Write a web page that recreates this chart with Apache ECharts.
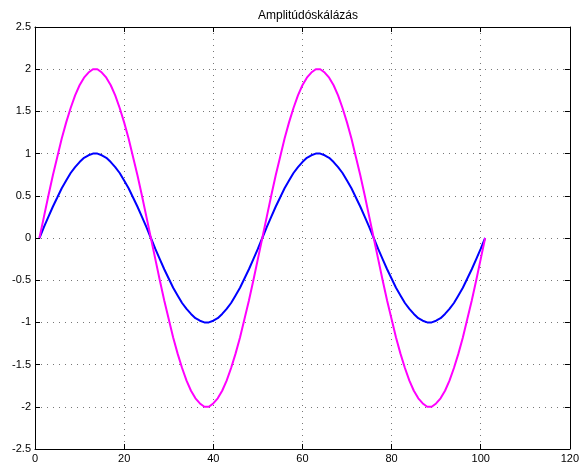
<!DOCTYPE html>
<html lang="en">
<head>
<meta charset="UTF-8">
<title>Amplitúdóskálázás</title>
<script src="https://cdn.jsdelivr.net/npm/echarts@6/dist/echarts.min.js"></script>
<style>
  html, body { margin: 0; padding: 0; background: #fff; }
  #chart { width: 582px; height: 464px; }
</style>
</head>
<body>
<div id="chart"></div>
<script type="text/javascript">
// sample values, one per x = 1..101
var blue = [
  0, 0.13, 0.25, 0.37, 0.48, 0.59, 0.68, 0.77, 0.84, 0.9, 0.95, 0.98, 1, 1, 0.98, 0.95, 0.9, 0.84, 0.77, 0.68, 0.59, 0.48, 0.37, 0.25, 0.13,
  0, -0.13, -0.25, -0.37, -0.48, -0.59, -0.68, -0.77, -0.84, -0.9, -0.95, -0.98, -1, -1, -0.98, -0.95, -0.9, -0.84, -0.77, -0.68, -0.59, -0.48, -0.37, -0.25, -0.13,
  0, 0.13, 0.25, 0.37, 0.48, 0.59, 0.68, 0.77, 0.84, 0.9, 0.95, 0.98, 1, 1, 0.98, 0.95, 0.9, 0.84, 0.77, 0.68, 0.59, 0.48, 0.37, 0.25, 0.13,
  0, -0.13, -0.25, -0.37, -0.48, -0.59, -0.68, -0.77, -0.84, -0.9, -0.95, -0.98, -1, -1, -0.98, -0.95, -0.9, -0.84, -0.77, -0.68, -0.59, -0.48, -0.37, -0.25, -0.13,
  0
];
var magenta = [
  0, 0.25, 0.5, 0.74, 0.96, 1.18, 1.37, 1.54, 1.69, 1.81, 1.9, 1.96, 2, 2, 1.96, 1.9, 1.81, 1.69, 1.54, 1.37, 1.18, 0.96, 0.74, 0.5, 0.25,
  0, -0.25, -0.5, -0.74, -0.96, -1.18, -1.37, -1.54, -1.69, -1.81, -1.9, -1.96, -2, -2, -1.96, -1.9, -1.81, -1.69, -1.54, -1.37, -1.18, -0.96, -0.74, -0.5, -0.25,
  0, 0.25, 0.5, 0.74, 0.96, 1.18, 1.37, 1.54, 1.69, 1.81, 1.9, 1.96, 2, 2, 1.96, 1.9, 1.81, 1.69, 1.54, 1.37, 1.18, 0.96, 0.74, 0.5, 0.25,
  0, -0.25, -0.5, -0.74, -0.96, -1.18, -1.37, -1.54, -1.69, -1.81, -1.9, -1.96, -2, -2, -1.96, -1.9, -1.81, -1.69, -1.54, -1.37, -1.18, -0.96, -0.74, -0.5, -0.25,
  0
];
var xStart = 1;

function toPoints(arr) {
  return arr.map(function (v, i) { return [xStart + i, v]; });
}

var chart = echarts.init(document.getElementById('chart'), null, { renderer: 'canvas' });

var font = 'Liberation Sans, Arial, Helvetica, sans-serif';
var gridDots = { show: true, lineStyle: { color: '#777', width: 1, type: [1, 5] } };
var ticksIn = { show: true, inside: true, length: 5, lineStyle: { color: '#000' } };
var axisLine = { show: true, onZero: false, lineStyle: { color: '#000', width: 1 } };

var option = {
  animation: false,
  backgroundColor: '#fff',
  title: {
    text: 'Amplitúdóskálázás',
    left: 303, top: 5, textAlign: 'center',
    textStyle: { fontFamily: font, fontSize: 12, fontWeight: 'normal', color: '#000' }
  },
  grid: { left: 35, right: 11, top: 27, bottom: 15, containLabel: false },
  xAxis: [
    {
      type: 'value', min: 0, max: 120, interval: 20, position: 'bottom',
      axisLine: axisLine, axisTick: ticksIn, splitLine: gridDots,
      axisLabel: { color: '#000', fontFamily: font, fontSize: 11, margin: 4 }
    },
    {
      type: 'value', min: 0, max: 120, interval: 20, position: 'top',
      axisLine: axisLine, axisTick: ticksIn, splitLine: { show: false },
      axisLabel: { show: false }
    }
  ],
  yAxis: [
    {
      type: 'value', min: -2.5, max: 2.5, interval: 0.5, position: 'left',
      axisLine: axisLine, axisTick: ticksIn, splitLine: gridDots,
      axisLabel: { color: '#000', fontFamily: font, fontSize: 11, margin: 4 }
    },
    {
      type: 'value', min: -2.5, max: 2.5, interval: 0.5, position: 'right',
      axisLine: axisLine, axisTick: ticksIn, splitLine: { show: false },
      axisLabel: { show: false }
    }
  ],
  series: [
    {
      type: 'line', data: toPoints(blue), showSymbol: false, smooth: false,
      lineStyle: { color: '#0000ff', width: 2 }, z: 3
    },
    {
      type: 'line', data: toPoints(magenta), showSymbol: false, smooth: false,
      lineStyle: { color: '#ff00ff', width: 2 }, z: 4
    }
  ]
};

chart.setOption(option);
</script>
</body>
</html>
